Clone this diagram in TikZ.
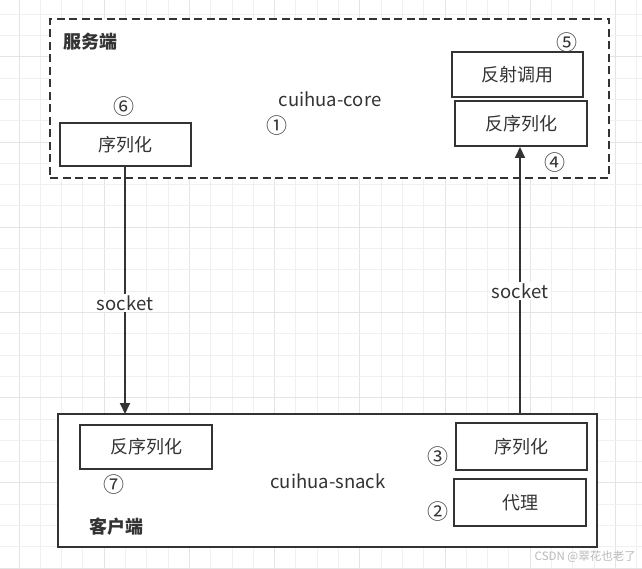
\documentclass[tikz,border=0pt]{standalone}
\usepackage{fontspec}
\setmainfont{Noto Sans CJK SC}
\usetikzlibrary{arrows.meta}
\definecolor{ink}{HTML}{333333}
\definecolor{gridthin}{HTML}{F0F0F0}
\definecolor{gridthick}{HTML}{E4E4E4}
\tikzset{
  procbox/.style={draw=ink, line width=2pt, fill=white, text=ink, inner sep=0pt, font=\fontsize{18}{20}\selectfont},
  numlbl/.style={text=ink, inner sep=0pt, font=\fontsize{21}{22}\selectfont},
  plainlbl/.style={text=ink, inner sep=0pt, font=\fontsize{18.5}{20}\selectfont},
  titlelbl/.style={text=ink, inner sep=0pt, font=\fontsize{18}{20}\selectfont\bfseries},
  sockarrow/.style={draw=ink, line width=2pt, -{Triangle[length=11pt,width=10pt]}},
  socklbl/.style={fill=white, text=ink, inner sep=1.5pt, font=\fontsize{18.5}{20}\selectfont}
}
\begin{document}
\begin{tikzpicture}[x=1pt,y=-1pt]
\useasboundingbox (0,0) rectangle (642,569);
\fill[white] (0,0) rectangle (642,569);
% grid
\foreach \k in {0,...,30}{
  \pgfmathsetmacro{\xx}{-2.3+21.3*\k}
  \pgfmathtruncatemacro{\m}{mod(\k+3,4)}
  \ifnum\m=0
    \draw[gridthick, line width=1pt] (\xx,0) -- (\xx,569);
  \else
    \draw[gridthin, line width=1pt] (\xx,0) -- (\xx,569);
  \fi
}
\foreach \k in {0,...,26}{
  \pgfmathsetmacro{\yy}{14.3+21.3*\k}
  \pgfmathtruncatemacro{\m}{mod(\k+2,4)}
  \ifnum\m=0
    \draw[gridthick, line width=1pt] (0,\yy) -- (642,\yy);
  \else
    \draw[gridthin, line width=1pt] (0,\yy) -- (642,\yy);
  \fi
}
% containers
\node[draw=ink, line width=2pt, dash pattern=on 8pt off 4.5pt, fill=white, inner sep=0pt,
      minimum width=559pt, minimum height=159pt] (server) at (329.5,98.5) {};
\node[draw=ink, line width=2pt, fill=white, inner sep=0pt,
      minimum width=539pt, minimum height=133pt] (client) at (327.5,480.5) {};
% server contents
\node[titlelbl] (srvtitle) at (90,42) {服务端};
\node[plainlbl] (core) at (330,99) {cuihua-core};
\node[numlbl] (n1) at (277,126) {①};
\node[numlbl] (n6) at (124,107) {⑥};
\node[numlbl] (n5) at (567,43) {⑤};
\node[numlbl] (n4) at (555,163) {④};
\node[procbox, minimum width=131pt, minimum height=43pt] (srvser) at (125.5,144.5) {序列化};
\node[procbox, minimum width=131pt, minimum height=45pt] (refl) at (517.5,74.5) {反射调用};
\node[procbox, minimum width=132pt, minimum height=45pt] (srvdeser) at (521,123.5) {反序列化};
% client contents
\node[titlelbl] (clititle) at (116.5,527) {客户端};
\node[plainlbl] (snack) at (328,481) {cuihua-snack};
\node[numlbl] (n7) at (114,485) {⑦};
\node[numlbl] (n3) at (438,456.5) {③};
\node[numlbl] (n2) at (438,511.5) {②};
\node[procbox, minimum width=132pt, minimum height=44pt] (clideser) at (146,447) {反序列化};
\node[procbox, minimum width=131pt, minimum height=47pt] (cliser) at (521.5,446.5) {序列化};
\node[procbox, minimum width=132pt, minimum height=47pt] (proxy) at (520,502.5) {代理};
% connectors
\coordinate (downend) at (125,414);
\coordinate (upstart) at (520,414);
\draw[sockarrow] (srvser.south -| downend) -- (downend)
  node[socklbl, pos=0.55] (lsock) {socket};
\draw[sockarrow] (upstart) -- (upstart |- srvdeser.south)
  node[socklbl, pos=0.46] (rsock) {socket};
% watermark
\node[text=gray!55, inner sep=0pt, font=\fontsize{11.5}{13}\selectfont, anchor=east] (wm) at (636,557) {CSDN @翠花也老了};
\end{tikzpicture}
\end{document}
